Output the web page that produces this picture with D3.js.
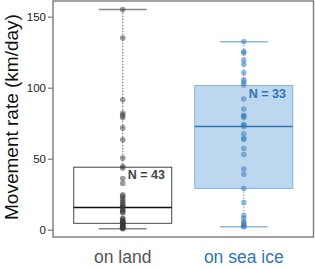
<!DOCTYPE html>
<html><head><meta charset="utf-8">
<script src="https://cdn.jsdelivr.net/npm/d3@7"></script>
<style>body{margin:0;background:#fff}svg{display:block;font-family:"Liberation Sans",Arial,sans-serif}</style>
</head><body>
<svg id="c" width="315" height="267"></svg>
<script>
const categories = ["on land", "on sea ice"];
const sampleSizes = [43, 33];
const landValues = [155, 135, 91.5, 82, 80.5, 79, 71.7, 63.3, 50.5, 44.5, 43.5,
  36, 32.6, 24.5, 23.5, 22.2, 20.5, 19.5, 18, 17, 16.2,
  15.7,
  14, 13.5, 12.5, 12, 8, 7.5, 6.5, 6, 5.5, 5,
  4.5,
  4, 3.5, 3, 2.5, 2, 1.8, 1.5, 1.2, 1, 0.7];
const iceValues = [2.1, 2.5, 3.5, 4.5, 5.6, 8, 10, 19.2,
  29.1,
  39, 42.7, 53, 57.2, 63.5, 64.5, 67.5,
  72.7,
  73.5, 74, 79, 80, 80.6, 85, 92,
  102,
  104, 105.5, 110.5, 116.5, 119.5, 124.5, 125.5, 132.5];
const whiskerLow = [0.7, 2.1];
const lowerQuartile = [4.5, 29.1];
const medians = [15.7, 72.7];
const upperQuartile = [44, 101.5];
const whiskerHigh = [155, 132.4];
const yTicks = [0, 50, 100, 150];

const svg = d3.select("#c");
const L = 53, R = 313.5, T = 1, B = 237;
const y = d3.scaleLinear().domain([-5.14, 161.05]).range([B, T]);
const x = d3.scalePoint().domain(categories).range([L, R]).padding(0.576);

const styles = [
  {label:"#555", box:"#444", boxFill:"none", med:"#111", whisk:"#888", dot:"#3a3a3a", dotOp:0.5, n:"#444"},
  {label:"#2e75b6", box:"#7fb0dc", boxFill:"#bdd7ee", med:"#2e75b6", whisk:"#8fb8de", dot:"#3b7dc0", dotOp:0.55, n:"#2e75b6"}
];
const data = [landValues, iceValues];

categories.forEach((c, i) => {
  const cx = x(c), st = styles[i];
  const bw = 98, sw = 48;
  const g = svg.append("g");
  g.append("rect").attr("x", cx - bw/2).attr("y", y(upperQuartile[i]))
    .attr("width", bw).attr("height", y(lowerQuartile[i]) - y(upperQuartile[i]))
    .attr("fill", st.boxFill).attr("stroke", st.box).attr("stroke-width", 1);
  g.append("line").attr("x1", cx).attr("x2", cx).attr("y1", y(upperQuartile[i])).attr("y2", y(whiskerHigh[i]))
    .attr("stroke", st.whisk).attr("stroke-width", 1.3).attr("stroke-dasharray", "1.5,1.5");
  g.append("line").attr("x1", cx).attr("x2", cx).attr("y1", y(lowerQuartile[i])).attr("y2", y(whiskerLow[i]))
    .attr("stroke", st.whisk).attr("stroke-width", 1.3).attr("stroke-dasharray", "1.5,1.5");
  [whiskerHigh[i], whiskerLow[i]].forEach(v => {
    g.append("line").attr("x1", cx - sw/2).attr("x2", cx + sw/2).attr("y1", y(v)).attr("y2", y(v))
      .attr("stroke", st.whisk).attr("stroke-width", 1.5);
  });
  g.append("line").attr("x1", cx - bw/2).attr("x2", cx + bw/2).attr("y1", y(medians[i])).attr("y2", y(medians[i]))
    .attr("stroke", st.med).attr("stroke-width", 1.5);
  g.selectAll("circle").data(data[i]).join("circle")
    .attr("cx", cx).attr("cy", d => y(d)).attr("r", 2.8)
    .attr("fill", st.dot).attr("fill-opacity", st.dotOp);
  g.append("text").attr("x", cx + 5).attr("y", y(upperQuartile[i]) + 12)
    .attr("font-size", 12.5).attr("font-weight", "bold").attr("fill", st.n)
    .text("N = " + sampleSizes[i]);
  svg.append("text").attr("x", cx).attr("y", 263).attr("text-anchor", "middle")
    .attr("font-size", 17.5).attr("fill", st.label).text(c);
});

svg.append("rect").attr("x", L).attr("y", T).attr("width", R - L).attr("height", B - T)
  .attr("fill", "none").attr("stroke", "#7a7a7a").attr("stroke-width", 1.4);

const ax = svg.append("g").attr("transform", `translate(${L},0)`)
  .call(d3.axisLeft(y).tickValues(yTicks).tickSize(5).tickPadding(2));
ax.select(".domain").remove();
ax.selectAll(".tick line").attr("stroke", "#7a7a7a").attr("stroke-width", 1.2);
ax.selectAll(".tick text").attr("font-size", 11.5).attr("fill", "#222")
  .attr("font-family", "Liberation Sans, Arial, sans-serif");

svg.append("text").attr("transform", `translate(18,${(T + B) / 2 - 2}) rotate(-90)`)
  .attr("text-anchor", "middle").attr("font-size", 19).attr("fill", "#111")
  .text("Movement rate (km/day)");
</script>
</body></html>
